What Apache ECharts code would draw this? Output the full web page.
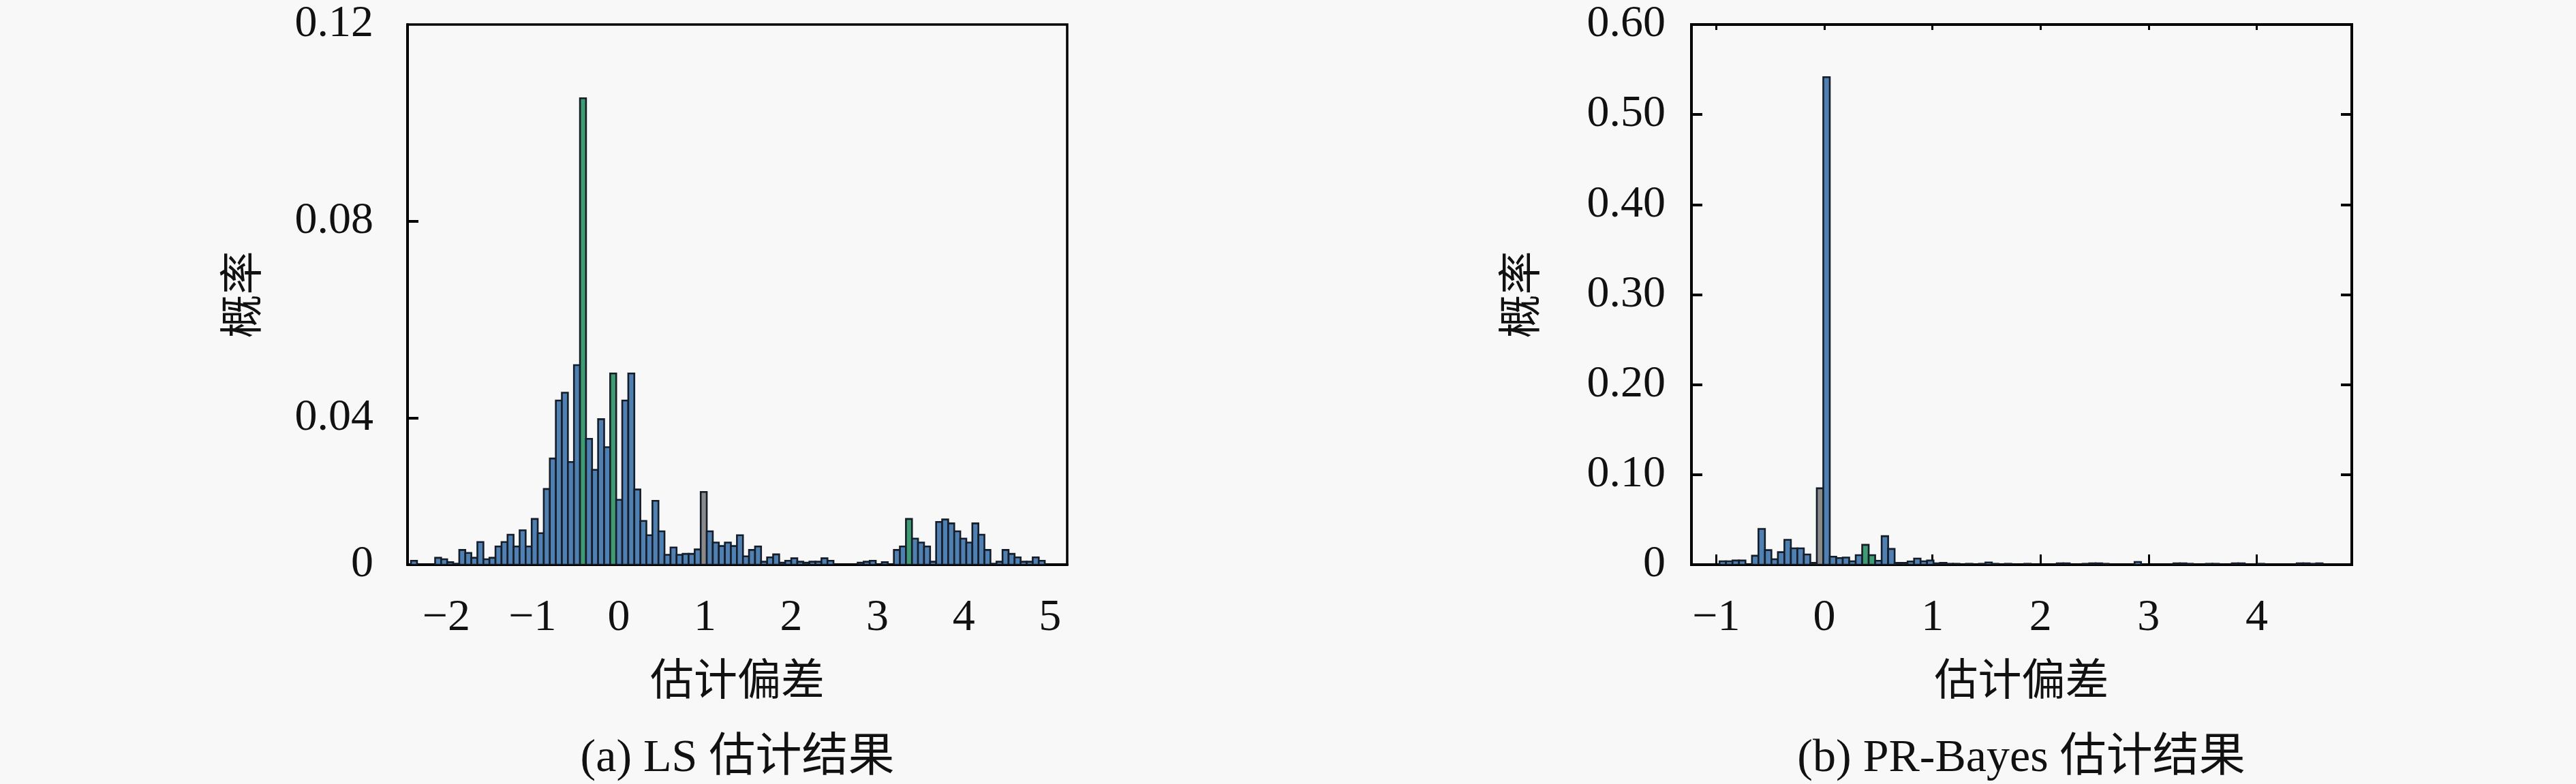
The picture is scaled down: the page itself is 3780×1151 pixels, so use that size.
<!DOCTYPE html>
<html>
<head>
<meta charset="utf-8">
<script src="https://cdn.jsdelivr.net/npm/echarts@6/dist/echarts.min.js"></script>
<style>
  html, body { margin: 0; padding: 0; background: #f8f8f8; }
  #main { width: 3780px; height: 1151px; }
</style>
</head>
<body>
<div id="main"></div>
<script>
// (a) LS 估计结果 - histogram, bins of width 0.07 starting at -2.41
const lsBinStart = -2.41
const lsBinWidth = 0.07
const lsValues = [
  0.0109, 0, 0, 0, 0.0115, 0.0112, 0.0106, 0.0103, 0.0131, 0.0125,
  0.0115, 0.0147, 0.0112, 0.0115, 0.0138, 0.0147, 0.0162, 0.0138, 0.0171, 0.0138,
  0.0194, 0.0165, 0.0255, 0.0317, 0.0435, 0.0451, 0.0310, 0.0507, 0.1050, 0.0357,
  0.0294, 0.0397, 0.0340, 0.0490, 0.0233, 0.0435, 0.0490, 0.0254, 0.0190, 0.0161,
  0.0231, 0.0169, 0.0121, 0.0136, 0.0121, 0.0123, 0.0123, 0.0132, 0.0249, 0.0169,
  0.0146, 0.0139, 0.0146, 0.0139, 0.0161, 0.0118, 0.0131, 0.0138, 0.0107, 0.0116,
  0.0122, 0.0105, 0.0109, 0.0114, 0.0107, 0.0105, 0.0107, 0.0107, 0.0114, 0.0109,
  0, 0, 0, 0, 0.0105, 0.0107, 0.0109, 0, 0.0106, 0,
  0.0131, 0.0138, 0.0194, 0.0154, 0.0146, 0.0138, 0.0107, 0.0188, 0.0193, 0.0185,
  0.0169, 0.0154, 0.0146, 0.0185, 0.0162, 0.0131, 0.0103, 0.0107, 0.0131, 0.0123,
  0.0116, 0.0107, 0.0107, 0.0116, 0.0109
]
const lsGreenBins = [28, 33, 82]
const lsGreyBins = [48]
const lsXTicks = [-2, -1, 0, 1, 2, 3, 4, 5]
const lsYBottom = 0.0101 // bottom of the frame, labelled "0" in the figure
const lsYTicks = [0.04, 0.08, 0.12]

// (b) PR-Bayes 估计结果 - histogram, bins of width 0.06 starting at -0.97
const prBinStart = -0.97
const prBinWidth = 0.06
const prValues = [
  0.0038, 0.0038, 0.0046, 0.0046, 0, 0.0099, 0.0397, 0.0162, 0.0060, 0.0139,
  0.0276, 0.0182, 0.0182, 0.0114, 0.0020, 0.0848, 0.5415, 0.0089, 0.0074, 0.0080,
  0.0038, 0.0106, 0.0220, 0.0106, 0.0043, 0.0317, 0.0175, 0.0020, 0.0020, 0.0036,
  0.0068, 0.0038, 0.0046, 0.0015, 0.0020, 0.0010, 0.0010, 0, 0.0010, 0,
  0.0010, 0.0025, 0.0010, 0, 0.0010, 0, 0, 0.0010, 0, 0,
  0, 0, 0.0015, 0.0015, 0, 0, 0.0010, 0.0015, 0.0015, 0.0010,
  0, 0, 0, 0, 0.0030, 0, 0, 0, 0, 0,
  0.0015, 0.0015, 0.0010, 0, 0, 0.0010, 0.0010, 0, 0, 0.0015,
  0.0015, 0, 0, 0.0010, 0, 0, 0, 0, 0, 0.0015,
  0.0015, 0.0010, 0.0015
]
const prGreenBins = [22, 23]
const prGreyBins = [15]
const prXTicks = [-1, 0, 1, 2, 3, 4]
const prYTicks = [0, 0.1, 0.2, 0.3, 0.4, 0.5, 0.6]

const serif = '"Liberation Serif", "DejaVu Serif", "Noto Sans CJK SC", serif'
const cjk = '"Liberation Serif", "Noto Sans CJK SC", serif'
const blue = '#5080b2'
const green = '#3f9b72'
const grey = '#8a8a8a'
const edge = '#141d28'

function binData(start, width, values) {
  return values.map(function (v, i) {
    return [start + i * width, start + (i + 1) * width, v]
  })
}

function minusFmt(v) {
  return v < 0 ? '\u2212' + Math.abs(v) : String(v)
}

function makeRender(base, greens, greys) {
  return function (params, api) {
    const v = api.value(2)
    if (!(v > base)) return null
    const top = api.coord([api.value(0), v])
    const bot = api.coord([api.value(1), base])
    let fill = blue
    if (greens.indexOf(params.dataIndex) >= 0) fill = green
    if (greys.indexOf(params.dataIndex) >= 0) fill = grey
    return {
      type: 'rect',
      shape: { x: top[0], y: top[1], width: bot[0] - top[0], height: bot[1] - top[1] },
      style: { fill: fill, stroke: edge, lineWidth: 2.6 }
    }
  }
}

const chart = echarts.init(document.getElementById('main'))

const labelStyle = { fontFamily: serif, fontSize: 66, color: '#111' }
const nameStyle = { fontFamily: cjk, fontSize: 64, color: '#111' }

const option = {
  backgroundColor: '#f8f8f8',
  animation: false,
  grid: [
    { left: 598, top: 36, width: 968, height: 793, show: true, borderColor: '#000', borderWidth: 3.5, backgroundColor: 'transparent' },
    { left: 2482, top: 36, width: 969, height: 793, show: true, borderColor: '#000', borderWidth: 4, backgroundColor: 'transparent' }
  ],
  xAxis: [
    {
      gridIndex: 0, type: 'value', min: -2.45, max: 5.2,
      axisLine: { show: true, onZero: false, lineStyle: { color: '#000', width: 4 } },
      axisTick: { show: false },
      splitLine: { show: false },
      axisLabel: Object.assign({ customValues: lsXTicks, formatter: minusFmt, margin: 46 }, labelStyle),
      name: '估计偏差', nameLocation: 'middle', nameGap: 142, nameTextStyle: nameStyle
    },
    {
      gridIndex: 1, type: 'value', min: -1.23, max: 4.88,
      axisLine: { show: true, onZero: false, lineStyle: { color: '#000', width: 4 } },
      axisTick: { show: true, inside: true, length: 15, customValues: prXTicks, lineStyle: { color: '#000', width: 3 } },
      splitLine: { show: false },
      axisLabel: Object.assign({ customValues: prXTicks, formatter: minusFmt, margin: 46 }, labelStyle),
      name: '估计偏差', nameLocation: 'middle', nameGap: 142, nameTextStyle: nameStyle
    },
    {
      gridIndex: 1, type: 'value', min: -1.23, max: 4.88, position: 'top',
      axisLine: { show: true, onZero: false, lineStyle: { color: '#000', width: 4 } },
      axisTick: { show: true, inside: true, length: 8, customValues: prXTicks, lineStyle: { color: '#000', width: 3 } },
      splitLine: { show: false },
      axisLabel: { show: false }
    }
  ],
  yAxis: [
    {
      gridIndex: 0, type: 'value', min: lsYBottom, max: 0.12,
      axisLine: { show: true, onZero: false, lineStyle: { color: '#000', width: 4 } },
      axisTick: { show: true, inside: true, length: 16, customValues: [0.04, 0.08], lineStyle: { color: '#000', width: 4 } },
      splitLine: { show: false },
      axisLabel: Object.assign({
        customValues: [lsYBottom].concat(lsYTicks),
        formatter: function (v) { return v < 0.02 ? '0' : v.toFixed(2) },
        margin: 50
      }, labelStyle),
      name: '概率', nameLocation: 'middle', nameRotate: 90, nameGap: 206, nameTextStyle: nameStyle
    },
    {
      gridIndex: 1, type: 'value', min: 0, max: 0.6,
      axisLine: { show: true, onZero: false, lineStyle: { color: '#000', width: 4 } },
      axisTick: { show: true, inside: true, length: 16, customValues: prYTicks, lineStyle: { color: '#000', width: 4 } },
      splitLine: { show: false },
      axisLabel: Object.assign({
        customValues: prYTicks,
        formatter: function (v) { return v === 0 ? '0' : v.toFixed(2) },
        margin: 38
      }, labelStyle),
      name: '概率', nameLocation: 'middle', nameRotate: 90, nameGap: 214, nameTextStyle: nameStyle
    },
    {
      gridIndex: 1, type: 'value', min: 0, max: 0.6, position: 'right',
      axisLine: { show: true, onZero: false, lineStyle: { color: '#000', width: 4 } },
      axisTick: { show: true, inside: true, length: 16, customValues: prYTicks, lineStyle: { color: '#000', width: 4 } },
      splitLine: { show: false },
      axisLabel: { show: false }
    }
  ],
  graphic: [
    { type: 'text', x: 1082, y: 1114, style: { text: '(a) LS 估计结果', font: '68px ' + cjk, fill: '#111', textAlign: 'center', textVerticalAlign: 'middle' } },
    { type: 'text', x: 2966, y: 1114, style: { text: '(b) PR-Bayes 估计结果', font: '68px ' + cjk, fill: '#111', textAlign: 'center', textVerticalAlign: 'middle' } }
  ],
  series: [
    {
      type: 'custom', xAxisIndex: 0, yAxisIndex: 0, clip: true,
      renderItem: makeRender(lsYBottom, lsGreenBins, lsGreyBins),
      encode: { x: [0, 1], y: 2 },
      data: binData(lsBinStart, lsBinWidth, lsValues)
    },
    {
      type: 'custom', xAxisIndex: 1, yAxisIndex: 1, clip: true,
      renderItem: makeRender(0, prGreenBins, prGreyBins),
      encode: { x: [0, 1], y: 2 },
      data: binData(prBinStart, prBinWidth, prValues)
    }
  ]
}

chart.setOption(option)
</script>
</body>
</html>
